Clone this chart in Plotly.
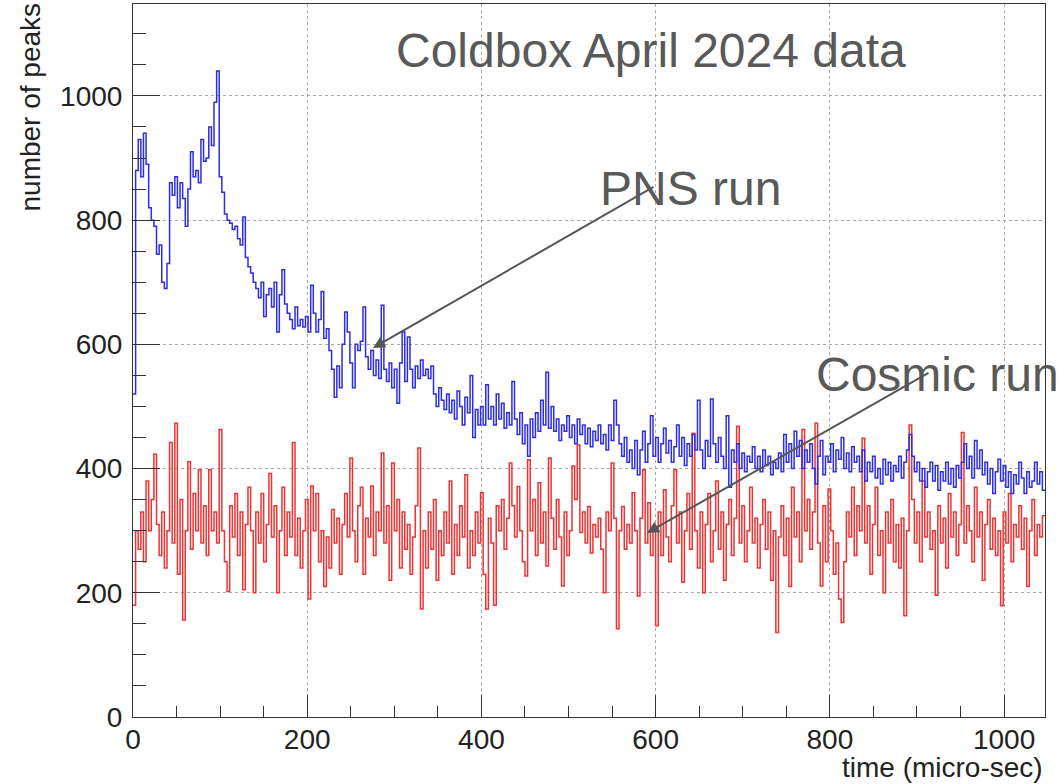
import plotly.graph_objects as go

# ---------------- data (3 micro-sec bins) ----------------
bin_width_us = 3

pns_counts = [
    520, 880, 930, 870, 940, 890, 820, 800, 790, 745, 760, 700, 690, 730, 860, 840, 870, 820, 860, 835,
    790, 850, 910, 870, 880, 860, 930, 895, 900, 950, 920, 990, 1040, 870, 845, 810, 800, 795, 785, 790,
    770, 760, 805, 740, 725, 715, 700, 690, 675, 700, 645, 680, 690, 660, 700, 620, 680, 720, 665, 650,
    640, 625, 660, 630, 640, 628, 645, 620, 695, 650, 620, 640, 685, 610, 625, 590, 560, 515, 565, 530,
    600, 652, 620, 570, 530, 600, 590, 605, 660, 580, 560, 590, 550, 575, 545, 663, 560, 540, 570, 530,
    560, 505, 570, 620, 540, 612, 560, 530, 565, 545, 575, 550, 560, 545, 565, 520, 500, 530, 510, 495,
    520, 490, 510, 480, 525, 500, 470, 515, 490, 550, 450, 495, 470, 500, 470, 535, 480, 500, 470, 520,
    480, 505, 465, 490, 470, 540, 480, 455, 490, 440, 470, 420, 480, 450, 490, 460, 510, 470, 555, 465,
    500, 460, 480, 445, 470, 460, 485, 450, 470, 440, 480, 455, 470, 440, 465, 435, 460, 445, 470, 440,
    455, 430, 470, 445, 510, 470, 440, 420, 450, 410, 430, 400, 445, 390, 430, 460, 410, 440, 485, 420,
    450, 410, 440, 465, 425, 445, 410, 435, 470, 420, 450, 405, 440, 420, 455, 430, 510, 430, 400, 445,
    420, 512, 440, 410, 450, 420, 400, 485, 370, 430, 410, 440, 400, 425, 395, 420, 410, 435, 400, 420,
    395, 430, 405, 420, 390, 410, 400, 425, 395, 455, 410, 440, 400, 460, 420, 445, 400, 430, 410, 440,
    400, 375, 420, 445, 390, 420, 410, 440, 395, 430, 415, 450, 400, 425, 395, 435, 410, 420, 395, 430,
    380, 410, 395, 420, 385, 400, 375, 415, 390, 410, 380, 405, 395, 420, 385, 410, 430, 455, 420, 395,
    410, 380, 400, 370, 395, 410, 380, 405, 365, 395, 380, 410, 375, 400, 370, 405, 385, 410, 440, 400,
    420, 385, 445, 400, 430, 390, 410, 375, 400, 360, 395, 415, 380, 405, 370, 395, 360, 390, 375, 410,
    385, 360, 395, 370, 380, 410, 375, 395, 365,
]

cosmic_counts = [
    180, 300, 270, 330, 250, 380, 300, 350, 423, 310, 260, 330, 240, 300, 442, 280, 473, 230, 350, 156,
    300, 411, 270, 360, 300, 398, 280, 340, 260, 398, 300, 330, 280, 463, 300, 250, 202, 340, 290, 360,
    260, 330, 205, 310, 370, 300, 200, 330, 280, 360, 250, 310, 392, 290, 340, 200, 300, 370, 260, 330,
    290, 442, 260, 320, 240, 300, 350, 190, 372, 300, 360, 250, 300, 210, 290, 240, 334, 280, 320, 230,
    310, 360, 290, 417, 300, 250, 340, 370, 230, 320, 290, 372, 260, 330, 300, 425, 280, 340, 220, 409,
    300, 350, 240, 330, 270, 310, 230, 290, 340, 433, 174, 300, 240, 330, 270, 350, 220, 300, 260, 330,
    280, 380, 230, 310, 260, 340, 290, 390, 240, 300, 260, 330, 280, 361, 230, 174, 320, 280, 180, 340,
    300, 350, 270, 320, 409, 340, 290, 371, 300, 250, 227, 414, 300, 350, 260, 377, 280, 330, 243, 417,
    320, 270, 350, 290, 211, 330, 260, 300, 404, 350, 438, 297, 330, 280, 339, 264, 310, 290, 320, 270,
    200, 330, 300, 409, 320, 142, 300, 339, 270, 310, 280, 361, 300, 195, 320, 398, 280, 345, 260, 300,
    147, 330, 260, 366, 290, 250, 340, 398, 280, 330, 217, 300, 360, 270, 457, 300, 240, 330, 200, 310,
    360, 250, 300, 380, 270, 330, 220, 310, 350, 260, 320, 468, 280, 340, 250, 300, 370, 280, 320, 240,
    310, 350, 270, 330, 220, 300, 136, 290, 340, 260, 320, 210, 370, 290, 330, 250, 463, 300, 350, 270,
    330, 473, 280, 211, 340, 250, 367, 300, 230, 280, 190, 152, 250, 330, 290, 370, 260, 340, 300, 449,
    280, 340, 230, 310, 370, 260, 300, 200, 330, 280, 350, 250, 310, 240, 320, 163, 300, 470, 350, 280,
    330, 250, 380, 290, 330, 270, 300, 196, 340, 280, 320, 240, 360, 290, 330, 260, 310, 458, 280, 340,
    300, 250, 370, 290, 330, 220, 310, 350, 270, 320, 260, 300, 179, 330, 280, 360, 250, 310, 290, 340,
    270, 320, 210, 300, 350, 260, 310, 290, 324,
]

x_tick_values = [0, 200, 400, 600, 800, 1000]
x_tick_labels = ["0", "200", "400", "600", "800", "1000"]
y_tick_values = [0, 200, 400, 600, 800, 1000]
y_tick_labels = ["0", "200", "400", "600", "800", "1000"]

x_title = "time (micro-sec)"
y_title = "number of peaks"
title_text = "Coldbox April 2024 data"
pns_label = "PNS run"
cosmic_label = "Cosmic run"

# ---------------- figure ----------------
W, H = 1058, 784
ML, MR, MT, MB = 133, 13, 4, 67
PW, PH = W - ML - MR, H - MT - MB


def px(xp):
    return (xp - ML) / PW


def py(yp):
    return (H - MB - yp) / PH


def step_xy(counts):
    xs = [i * bin_width_us for i in range(len(counts) + 1)]
    ys = list(counts) + [counts[-1]]
    return xs, ys


fig = go.Figure()
bx, by = step_xy(pns_counts)
rx, ry = step_xy(cosmic_counts)
fig.add_trace(go.Scatter(x=rx, y=ry, mode="lines", line=dict(color="rgb(240,50,50)", width=1.5, shape="hv"),
                         name="Cosmic run", showlegend=False))
fig.add_trace(go.Scatter(x=bx, y=by, mode="lines", line=dict(color="rgb(45,45,232)", width=1.5, shape="hv"),
                         name="PNS run", showlegend=False))

tick_font = dict(family="Liberation Sans, Arial, sans-serif", size=28, color="#222222")

fig.update_xaxes(
    range=[0, 1047], showline=True, linecolor="#333333", linewidth=1, mirror=True,
    ticks="inside", ticklen=22, tickwidth=1, tickcolor="#333333",
    tickvals=x_tick_values, ticktext=x_tick_labels, tickfont=tick_font,
    showgrid=True, gridcolor="#a8a8a8", griddash="dot", gridwidth=1, zeroline=False,
    minor=dict(ticks="inside", ticklen=11, tickwidth=1, tickcolor="#333333", dtick=50, tick0=0, showgrid=False),
    ticklabelstandoff=-3,
)
fig.update_yaxes(
    range=[0, 1148], showline=True, linecolor="#333333", linewidth=1, mirror=True,
    ticks="inside", ticklen=27, tickwidth=1, tickcolor="#333333",
    tickvals=y_tick_values, ticktext=y_tick_labels, tickfont=tick_font,
    showgrid=True, gridcolor="#a8a8a8", griddash="dot", gridwidth=1, zeroline=False,
    minor=dict(ticks="inside", ticklen=13, tickwidth=1, tickcolor="#333333", dtick=50, tick0=0, showgrid=False),
    ticklabelstandoff=4,
)

note_font = dict(family="Liberation Sans, Arial, sans-serif", size=48, color="#595959")
annotations = [
    dict(text=title_text, xref="paper", yref="paper", x=px(651), y=py(50), xanchor="center", yanchor="middle",
         showarrow=False, font=note_font),
    dict(text=pns_label, xref="paper", yref="paper", x=px(598), y=py(188), xanchor="left", yanchor="middle",
         showarrow=False, font=note_font),
    dict(text=cosmic_label, xref="paper", yref="paper", x=px(814), y=py(374), xanchor="left", yanchor="middle",
         showarrow=False, font=note_font),
    dict(text=x_title, xref="paper", yref="paper", x=1.0, y=py(767), xanchor="right", yanchor="middle",
         showarrow=False, font=tick_font),
    dict(text=y_title, xref="paper", yref="paper", x=px(30), y=py(1), xanchor="center", yanchor="top",
         textangle=-90, showarrow=False, font=tick_font),
    # arrows
    dict(text="", xref="paper", yref="paper", x=px(373), y=py(348), ax=655 - 373, ay=186 - 348,
         showarrow=True, arrowhead=2, arrowsize=1.2, arrowwidth=2, arrowcolor="#555555", standoff=0),
    dict(text="", xref="paper", yref="paper", x=px(647), y=py(533), ax=930 - 647, ay=372 - 533,
         showarrow=True, arrowhead=2, arrowsize=1.2, arrowwidth=2, arrowcolor="#555555", standoff=0),
]

fig.update_layout(
    width=W, height=H, margin=dict(l=ML, r=MR, t=MT, b=MB, autoexpand=False),
    paper_bgcolor="white", plot_bgcolor="white", showlegend=False,
    annotations=annotations,
)

fig.write_html("out.html")
